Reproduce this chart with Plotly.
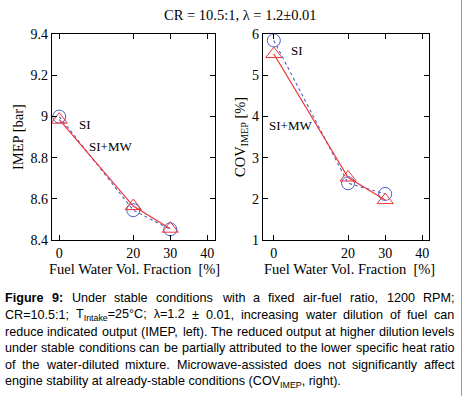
import plotly.graph_objects as go

# ---------------- data ----------------
water_frac = [0, 20, 30]
imep_si = [9.0, 8.545, 8.452]
imep_simw = [8.985, 8.565, 8.455]
cov_si = [5.85, 2.38, 2.12]
cov_simw = [5.52, 2.52, 1.97]

x_ticks = [0, 20, 30, 40]
imep_ticks = [8.4, 8.6, 8.8, 9.0, 9.2, 9.4]
imep_ticktext = ["8.4", "8.6", "8.8", "9", "9.2", "9.4"]
cov_ticks = [1, 2, 3, 4, 5, 6]

title_text = "CR = 10.5:1, λ = 1.2±0.01"
xlabel = "Fuel Water Vol. Fraction\u00a0\u00a0[%]"
caption_lines = [
    "<b>Figure</b> <b>9:</b> Under stable conditions with a fixed air-fuel ratio, 1200 RPM;",
    "CR=10.5:1; T<sub>Intake</sub>=25°C;\u00a0\u00a0λ=1.2 ± 0.01, increasing water dilution of fuel can",
    "reduce indicated output (IMEP, left). The reduced output at higher dilution levels",
    "under stable conditions can be partially attributed to the lower specific heat ratio",
    "of the water-diluted mixture. Microwave-assisted does not significantly affect",
    "engine stability at already-stable conditions (COV<sub>IMEP</sub>, right).",
]

W, H = 463, 396
SERIF = "Liberation Serif, Times New Roman, serif"
SANS = "Liberation Sans, Arial, sans-serif"
BLUE = "#4b5fc4"
RED = "#f03434"


def px(x):
    return x / W


def py(y):
    return 1 - y / H


fig = go.Figure()

for xa, ya, si, mw in [("x", "y", imep_si, imep_simw), ("x2", "y2", cov_si, cov_simw)]:
    fig.add_trace(go.Scatter(
        x=water_frac, y=si, xaxis=xa, yaxis=ya, mode="lines+markers",
        line=dict(color=BLUE, width=1.1, dash="3px,3px"),
        marker=dict(symbol="circle-open", size=13, color=BLUE, line=dict(width=1)),
        showlegend=False))
    fig.add_trace(go.Scatter(
        x=water_frac, y=mw, xaxis=xa, yaxis=ya, mode="lines+markers",
        line=dict(color=RED, width=1.2),
        marker=dict(symbol="triangle-up-open", size=14, color=RED, line=dict(width=1)),
        showlegend=False))

axis_common = dict(
    showline=True, linecolor="black", linewidth=1, mirror="allticks",
    ticks="inside", ticklen=5, tickcolor="black", showgrid=False, zeroline=False,
    automargin=False,
    tickfont=dict(family=SERIF, size=14, color="black"),
)

fig.update_layout(
    width=W, height=H, margin=dict(l=0, r=0, t=0, b=0, pad=0, autoexpand=False),
    paper_bgcolor="white", plot_bgcolor="white",
    xaxis=dict(domain=[px(51.7), px(215)], range=[-2.05, 42.1],
               tickvals=x_ticks, anchor="y", **axis_common),
    yaxis=dict(domain=[py(240), py(34.3)], range=[8.4, 9.4],
               tickvals=imep_ticks, ticktext=imep_ticktext, anchor="x", **axis_common),
    xaxis2=dict(domain=[px(262.7), px(429)], range=[-3.0, 41.8],
                tickvals=x_ticks, anchor="y2", **axis_common),
    yaxis2=dict(domain=[py(240), py(34.3)], range=[1, 6],
                tickvals=cov_ticks, anchor="x2", **axis_common),
)


def note(text, x, y, size, family=SERIF, angle=0, xanchor="center", yanchor="middle"):
    return dict(text=text, x=px(x), y=py(y), xref="paper", yref="paper",
                xanchor=xanchor, yanchor=yanchor, textangle=angle, showarrow=False,
                font=dict(family=family, size=size, color="black"))


ann = [
    note(title_text, 240, 15, 14.5),
    note("IMEP [bar]", 18, 137, 14.5, angle=-90),
    note("COV<sub>IMEP</sub> [%]", 241, 137, 14.5, angle=-90),
    note(xlabel, 134, 269, 14.5),
    note(xlabel, 349, 269, 14.5),
]
for txt, x, y in [("SI", 85, 124), ("SI+MW", 110, 146), ("SI", 297, 50), ("SI+MW", 290, 126)]:
    ann.append(note(txt, x, y, 13))

# ---- caption, justified word by word (Arial metrics per 1000 em) ----
AW = {" ": 278, "a": 556, "b": 556, "c": 500, "d": 556, "e": 556, "f": 278, "g": 556, "h": 556,
      "i": 222, "j": 222, "k": 500, "l": 222, "m": 833, "n": 556, "o": 556, "p": 556, "q": 556,
      "r": 333, "s": 500, "t": 278, "u": 556, "v": 500, "w": 722, "x": 500, "y": 500, "z": 500,
      "A": 667, "B": 667, "C": 722, "D": 722, "E": 667, "F": 611, "G": 778, "H": 722, "I": 278,
      "J": 500, "K": 667, "L": 556, "M": 833, "N": 722, "O": 778, "P": 667, "Q": 778, "R": 722,
      "S": 667, "T": 611, "U": 722, "V": 667, "W": 944, "X": 667, "Y": 667, "Z": 611,
      ".": 278, ",": 278, ":": 278, ";": 278, "-": 333, "(": 333, ")": 333, "=": 584,
      "±": 584, "°": 400, "λ": 556, "[": 278, "]": 278, "\u00a0": 278}
AWB = {"F": 611, "i": 278, "g": 611, "u": 611, "r": 389, "e": 556, "9": 556, ":": 333}


def word_width(word, size):
    w = 0.0
    bold = "<b>" in word
    scale = 1.0
    i = 0
    while i < len(word):
        if word.startswith("<b>", i) or word.startswith("</b>", i):
            i = word.index(">", i) + 1
            continue
        if word.startswith("<sub>", i):
            scale = 0.7
            i += 5
            continue
        if word.startswith("</sub>", i):
            scale = 1.0
            i += 6
            continue
        ch = word[i]
        if ch.isdigit():
            cw = 556
        elif bold:
            cw = AWB.get(ch, AW.get(ch, 556))
        else:
            cw = AW.get(ch, 556)
        w += cw * scale
        i += 1
    return w * size / 1000.0


CAP_SIZE = 12.6
X0, X1 = 3.0, 452.5
for li, line in enumerate(caption_lines):
    yc = 298 + 16.8 * li
    if li == len(caption_lines) - 1:
        ann.append(note(line, X0, yc, CAP_SIZE, family=SANS, xanchor="left"))
        continue
    words = line.split(" ")
    widths = [word_width(w, CAP_SIZE) for w in words]
    gap = (X1 - X0 - sum(widths)) / (len(words) - 1)
    xpos = X0
    for w, wd in zip(words, widths):
        ann.append(note(w, xpos, yc, CAP_SIZE, family=SANS, xanchor="left"))
        xpos += wd + gap

fig.update_layout(annotations=ann)

fig.add_shape(type="line", xref="paper", yref="paper", x0=px(461.5), x1=px(461.5), y0=0, y1=1,
              line=dict(color="#9a9a9a", width=1))

fig.write_html("out.html", config={"displayModeBar": False},
               post_script="document.body.style.margin='0px';")
